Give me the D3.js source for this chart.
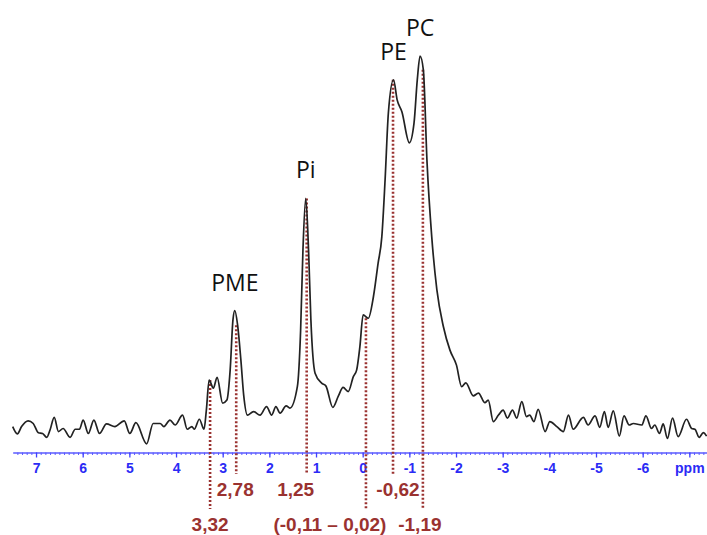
<!DOCTYPE html>
<html>
<head>
<meta charset="utf-8">
<script src="https://cdnjs.cloudflare.com/ajax/libs/d3/7.8.5/d3.min.js"></script>
<style>
  body { margin: 0; background: #fff; }
  .tick text { font-family: "Liberation Sans", Arial, sans-serif; font-weight: bold; }
</style>
</head>
<body>
<div id="chart"></div>
<script>
// 31P spectrum, chemical shift (ppm) and relative intensity (% of PC peak)
var ppm = [7.50, 7.40, 7.31, 7.17, 7.06, 6.95, 6.86, 6.77, 6.70, 6.61, 6.52, 6.42, 6.27, 6.16, 6.07,
  5.99, 5.88, 5.76, 5.64, 5.49, 5.31, 5.11, 4.99, 4.86, 4.63, 4.49, 4.34, 4.26, 4.13, 4.02,
  3.86, 3.76, 3.66, 3.61, 3.50, 3.40, 3.35, 3.29, 3.20, 3.12, 3.00, 2.91, 2.84, 2.78, 2.74,
  2.68, 2.61, 2.55, 2.47, 2.34, 2.20, 2.06, 1.95, 1.86, 1.77, 1.64, 1.56, 1.40, 1.33, 1.28,
  1.22, 1.16, 1.11, 1.02, 0.88, 0.79, 0.64, 0.52, 0.42, 0.31, 0.20, 0.13, 0.06, -0.01, -0.12,
  -0.23, -0.33, -0.41, -0.48, -0.55, -0.66, -0.74, -0.84, -1.00, -1.10, -1.17, -1.23, -1.30, -1.38, -1.48,
  -1.59, -1.73, -1.87, -2.01, -2.12, -2.21, -2.37, -2.48, -2.62, -2.69, -2.80, -2.91, -3.01, -3.10, -3.21,
  -3.30, -3.41, -3.51, -3.58, -3.67, -3.76, -3.91, -4.01, -4.16, -4.30, -4.41, -4.51, -4.73, -4.83, -4.98,
  -5.08, -5.18, -5.26, -5.37, -5.50, -5.60, -5.71, -5.80, -5.98, -6.07, -6.19, -6.26, -6.36, -6.44, -6.53,
  -6.64, -6.76, -6.94, -7.05, -7.12, -7.21, -7.30, -7.37];
var intensity = [3.5, 1.6, 3.5, 5.0, 4.3, 1.9, 1.7, 0.7, 2.6, 5.9, 2.2, 3.0, 0.7, 2.8, 2.8,
  5.2, 1.7, 5.2, 1.7, 4.2, 3.5, 5.0, 1.7, 4.5, -1.0, 4.3, 4.3, 3.5, 5.2, 3.9,
  6.5, 2.8, 3.5, 2.8, 5.4, 2.8, 7.8, 15.6, 13.5, 16.3, 9.6, 10.4, 18.2, 31.3, 33.7,
  29.9, 20.8, 11.7, 6.5, 7.4, 6.5, 8.7, 6.5, 8.7, 7.0, 8.9, 8.3, 13.9, 28.6, 49.5,
  62.9, 49.5, 31.3, 17.4, 14.8, 14.1, 8.5, 11.5, 13.7, 12.6, 16.5, 18.2, 24.3, 32.6, 31.7,
  37.3, 46.0, 52.9, 67.7, 85.1, 93.8, 88.5, 85.5, 77.4, 82.5, 93.8, 100, 96.4, 72.1, 52.9,
  39.1, 29.5, 23.4, 19.5, 13.9, 14.9, 11.5, 12.2, 9.7, 10.4, 4.8, 6.5, 7.8, 5.7, 7.8,
  5.7, 10.0, 6.1, 6.5, 4.8, 8.0, 2.2, 4.8, 3.5, 2.2, 6.5, 2.8, 5.9, 3.9, 6.3,
  3.3, 7.4, 3.3, 7.6, 1.0, 6.3, 3.9, 4.3, 3.9, 6.3, 3.0, 3.9, 1.7, 4.2, 0.4,
  5.7, 0.9, 5.4, 3.0, 2.8, 0.7, 1.9, 1.0];

var tickPpm = [7, 6, 5, 4, 3, 2, 1, 0, -1, -2, -3, -4, -5, -6, -7];

var peakNames = ["PME", "Pi", "PE", "PC"];
var peakPpm = [2.74, 1.22, -0.66, -1.23];

// dotted markers: where the line sits, its label, and which label row
var markerPpm = [3.27, 2.71, 1.20, -0.07, -0.65, -1.29];
var markerText = ["3,32", "2,78", "1,25", "(-0,11 \u2013 0,02)", "-0,62", "-1,19"];
var markerRow = [2, 1, 1, 2, 1, 2];

var width = 707, height = 535;
var axisY = 452.5;

var data = ppm.map(function(p, i) { return {ppm: p, val: intensity[i]}; });

var x = d3.scaleLinear()
    .domain([7.5, -7.4])
    .range([12.7, 708]);

var y = d3.scaleLinear()
    .domain([0, 100])
    .range([440, 56]);

var svg = d3.select("#chart").append("svg")
    .attr("width", width)
    .attr("height", height);

// value of the spectrum at the nearest sampled point
function nearest(p) {
    var best = data[0];
    data.forEach(function(d) {
        if (Math.abs(d.ppm - p) < Math.abs(best.ppm - p)) best = d;
    });
    return best.val;
}

// minor ticks every 0.1 ppm
var minor = d3.range(74, -75, -1).map(function(v) { return v / 10; });
svg.append("g")
    .attr("class", "minor axis")
    .attr("transform", "translate(0," + axisY + ")")
    .call(d3.axisBottom(x).tickValues(minor).tickSize(2.5).tickFormat(""))
    .call(function(g) {
        g.select(".domain").remove();
        g.selectAll("line").attr("stroke", "#5b5bff").attr("stroke-width", 1);
    });

var xAxis = d3.axisBottom(x)
    .tickValues(tickPpm)
    .tickSize(5)
    .tickPadding(6)
    .tickSizeOuter(0)
    .tickFormat(function(d) { return d === -7 ? "ppm" : d; });

svg.append("g")
    .attr("class", "x axis")
    .attr("transform", "translate(0," + axisY + ")")
    .call(xAxis)
    .call(function(g) {
        g.select(".domain").attr("stroke", "#5b5bff").attr("stroke-width", 1.5);
        g.selectAll(".tick line").attr("stroke", "#4040ff").attr("stroke-width", 1.3);
        g.selectAll(".tick text")
            .attr("fill", "#2b2bf5")
            .style("font-size", "14px");
    });

// dotted marker lines
var markerColor = "#9a3230";
var rowBase = {1: 496, 2: 531};
var labelNudge = [0, -1, -11, -36, 5, -3];

svg.append("g").selectAll("line")
    .data(markerPpm)
    .enter().append("line")
      .attr("x1", function(d) { return x(d); })
      .attr("x2", function(d) { return x(d); })
      .attr("y1", function(d) { return y(nearest(d)); })
      .attr("y2", function(d, i) { return rowBase[markerRow[i]] - 22; })
      .attr("stroke", markerColor)
      .attr("stroke-width", 2.6)
      .attr("stroke-dasharray", "2,2");

svg.append("g").selectAll("text")
    .data(markerText)
    .enter().append("text")
      .attr("x", function(d, i) { return x(markerPpm[i]) + labelNudge[i]; })
      .attr("y", function(d, i) { return rowBase[markerRow[i]]; })
      .attr("text-anchor", "middle")
      .style("font-family", "'Liberation Sans', Arial, sans-serif")
      .style("font-weight", "bold")
      .style("font-size", "19px")
      .attr("fill", markerColor)
      .text(function(d) { return d; });

// spectrum
var line = d3.line()
    .x(function(d) { return x(d.ppm); })
    .y(function(d) { return y(d.val); })
    .curve(d3.curveMonotoneX);

svg.append("path")
    .datum(data)
    .attr("d", line)
    .attr("fill", "none")
    .attr("stroke", "#222")
    .attr("stroke-width", 1.7);

// peak names
svg.append("g").selectAll("text")
    .data(peakNames)
    .enter().append("text")
      .attr("x", function(d, i) { return x(peakPpm[i]); })
      .attr("y", function(d, i) { return y(nearest(peakPpm[i])) - 20; })
      .attr("text-anchor", "middle")
      .style("font-family", "'Open Sans', sans-serif")
      .style("font-size", "23px")
      .attr("fill", "#111")
      .text(function(d) { return d; });
</script>
</body>
</html>
